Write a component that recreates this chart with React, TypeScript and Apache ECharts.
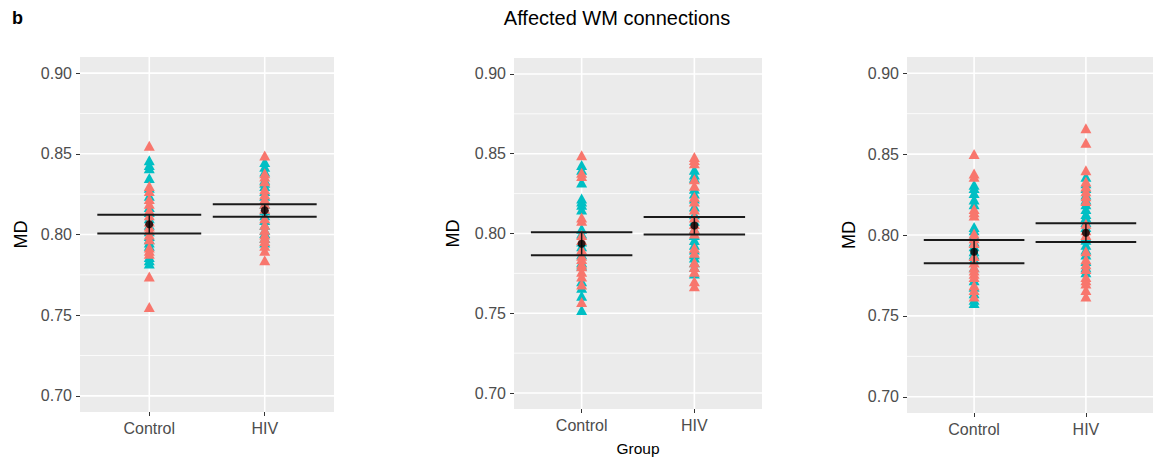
import React, { useEffect, useRef } from "react";
import * as echarts from "echarts";

const categories = ["Control", "HIV"];
const yTicks = [0.7, 0.75, 0.8, 0.85, 0.9];
const yMinor = [0.725, 0.775, 0.825, 0.875];
const panelNames = ["b", "Affected WM connections"];

// Panel 1
const p1ControlSalmon = [0.855, 0.830, 0.827, 0.822, 0.819, 0.815, 0.812, 0.808, 0.805, 0.803, 0.800, 0.797, 0.792, 0.790, 0.788, 0.774, 0.755];
const p1ControlTeal = [0.846, 0.843, 0.841, 0.835, 0.829, 0.824, 0.817, 0.814, 0.810, 0.806, 0.802, 0.799, 0.797, 0.795, 0.793, 0.786, 0.784, 0.782];
const p1HivSalmon = [0.849, 0.838, 0.836, 0.833, 0.828, 0.825, 0.822, 0.819, 0.816, 0.810, 0.806, 0.803, 0.800, 0.798, 0.796, 0.793, 0.790, 0.784];
const p1HivTeal = [0.845, 0.842, 0.839, 0.834, 0.832, 0.830, 0.827, 0.824, 0.819, 0.815, 0.812, 0.809, 0.806, 0.803, 0.801, 0.798, 0.795];
const p1Lower = [0.8006, 0.8110];
const p1Upper = [0.8122, 0.8188];
const p1Mean = [0.8064, 0.8150];

// Panel 2
const p2ControlSalmon = [0.849, 0.838, 0.836, 0.810, 0.808, 0.799, 0.796, 0.790, 0.786, 0.784, 0.781, 0.7795, 0.776, 0.773, 0.768, 0.757];
const p2ControlTeal = [0.843, 0.840, 0.832, 0.822, 0.820, 0.818, 0.815, 0.803, 0.800, 0.795, 0.792, 0.787, 0.782, 0.780, 0.770, 0.766, 0.761, 0.752];
const p2HivSalmon = [0.848, 0.846, 0.844, 0.834, 0.830, 0.823, 0.820, 0.815, 0.810, 0.806, 0.803, 0.800, 0.791, 0.788, 0.782, 0.779, 0.776, 0.770, 0.767];
const p2HivTeal = [0.840, 0.837, 0.835, 0.828, 0.825, 0.822, 0.817, 0.812, 0.808, 0.803, 0.799, 0.796, 0.793, 0.790, 0.787, 0.785, 0.782, 0.779, 0.775];
const p2Lower = [0.7863, 0.7994];
const p2Upper = [0.8008, 0.8104];
const p2Mean = [0.7936, 0.8050];

// Panel 3
const p3ControlSalmon = [0.850, 0.838, 0.836, 0.816, 0.814, 0.812, 0.801, 0.798, 0.795, 0.787, 0.783, 0.780, 0.778, 0.776, 0.774, 0.769, 0.766, 0.762];
const p3ControlTeal = [0.831, 0.829, 0.826, 0.822, 0.819, 0.805, 0.803, 0.800, 0.796, 0.793, 0.790, 0.788, 0.785, 0.780, 0.772, 0.768, 0.764, 0.760, 0.758];
const p3HivSalmon = [0.866, 0.857, 0.840, 0.833, 0.830, 0.827, 0.824, 0.821, 0.807, 0.803, 0.800, 0.790, 0.785, 0.782, 0.779, 0.774, 0.772, 0.770, 0.766, 0.762];
const p3HivTeal = [0.836, 0.832, 0.829, 0.825, 0.822, 0.819, 0.816, 0.813, 0.811, 0.808, 0.805, 0.799, 0.797, 0.794, 0.791, 0.788, 0.784, 0.780, 0.777];
const p3Lower = [0.7825, 0.7957];
const p3Upper = [0.7969, 0.8072];
const p3Mean = [0.7897, 0.8014];

const panels = [
  { cs: p1ControlSalmon, ct: p1ControlTeal, hs: p1HivSalmon, ht: p1HivTeal, lo: p1Lower, hi: p1Upper, mean: p1Mean },
  { cs: p2ControlSalmon, ct: p2ControlTeal, hs: p2HivSalmon, ht: p2HivTeal, lo: p2Lower, hi: p2Upper, mean: p2Mean },
  { cs: p3ControlSalmon, ct: p3ControlTeal, hs: p3HivSalmon, ht: p3HivTeal, lo: p3Lower, hi: p3Upper, mean: p3Mean },
];

const layout = [
  { left: 80, top: 57, width: 254, height: 355, nameGap: 50 },
  { left: 514, top: 58, width: 248, height: 354, nameGap: 52 },
  { left: 907, top: 57, width: 246, height: 356, nameGap: 49 },
];

const X_MIN = 0.4;
const X_MAX = 2.6;
const Y_MIN = 0.69;
const Y_MAX = 0.91;
const SALMON = "#F8766D";
const TEAL = "#00BFC4";
const FONT = "'Liberation Sans', Arial, Helvetica, sans-serif";

export default function App() {
  const ref = useRef<HTMLDivElement>(null);
  useEffect(() => {
    if (!ref.current) return;
    const chart = echarts.init(ref.current, undefined, { renderer: "svg" });
    const grid: any[] = [];
    const xAxis: any[] = [];
    const yAxis: any[] = [];
    const series: any[] = [];

    panels.forEach((p, i) => {
      const l = layout[i];
      grid.push({
        left: l.left, top: l.top, width: l.width, height: l.height,
        show: true, backgroundColor: "#EBEBEB", borderWidth: 0, containLabel: false,
      });
      xAxis.push({
        gridIndex: i, type: "value", min: X_MIN, max: X_MAX,
        axisLine: { show: false },
        axisTick: { show: true, customValues: [1, 2], length: 4, lineStyle: { color: "#333333", width: 1 } },
        axisLabel: {
          customValues: [1, 2],
          formatter: (v: number) => categories[Math.round(v) - 1] ?? "",
          color: "#4D4D4D", fontSize: 16, margin: 8, fontFamily: FONT,
        },
        splitLine: { show: false },
        name: i === 1 ? "Group" : "",
        nameLocation: "middle", nameGap: 31,
        nameTextStyle: { color: "#000000", fontSize: 15.5, fontFamily: FONT },
      });
      yAxis.push({
        gridIndex: i, type: "value", min: Y_MIN, max: Y_MAX,
        axisLine: { show: false },
        axisTick: { show: true, customValues: yTicks, length: 4, lineStyle: { color: "#333333", width: 1 } },
        axisLabel: {
          customValues: yTicks,
          formatter: (v: number) => v.toFixed(2),
          color: "#4D4D4D", fontSize: 16, margin: 8, fontFamily: FONT,
        },
        splitLine: { show: false },
        name: "MD", nameLocation: "middle", nameGap: l.nameGap, nameRotate: 90,
        nameTextStyle: { color: "#000000", fontSize: 18, fontFamily: FONT },
      });

      // minor grid lines
      yMinor.forEach((v) => {
        series.push({
          type: "line", xAxisIndex: i, yAxisIndex: i, silent: true, symbol: "none", z: 1,
          data: [[X_MIN, v], [X_MAX, v]],
          lineStyle: { color: "#FFFFFF", width: 0.8 },
        });
      });
      // major grid lines
      yTicks.forEach((v) => {
        series.push({
          type: "line", xAxisIndex: i, yAxisIndex: i, silent: true, symbol: "none", z: 1,
          data: [[X_MIN, v], [X_MAX, v]],
          lineStyle: { color: "#FFFFFF", width: 1.6 },
        });
      });
      categories.forEach((_, k) => {
        series.push({
          type: "line", xAxisIndex: i, yAxisIndex: i, silent: true, symbol: "none", z: 1,
          data: [[k + 1, Y_MIN], [k + 1, Y_MAX]],
          lineStyle: { color: "#FFFFFF", width: 1.6 },
        });
      });

      const pts = (ctrl: number[], hiv: number[]) => [
        ...ctrl.map((v) => [1, v]),
        ...hiv.map((v) => [2, v]),
      ];
      series.push({
        type: "scatter", xAxisIndex: i, yAxisIndex: i, symbol: "triangle", symbolSize: [11, 10], z: 3,
        itemStyle: { color: TEAL, opacity: 1 },
        data: pts(p.ct, p.ht),
      });
      series.push({
        type: "scatter", xAxisIndex: i, yAxisIndex: i, symbol: "triangle", symbolSize: [11, 10], z: 3,
        itemStyle: { color: SALMON, opacity: 1 },
        data: pts(p.cs, p.hs),
      });
      series.push({
        type: "custom", xAxisIndex: i, yAxisIndex: i, z: 4,
        encode: { x: 0, y: [1, 2] },
        data: categories.map((_, k) => [k + 1, p.lo[k], p.hi[k]]),
        renderItem: (params: any, api: any) => {
          const x = api.value(0);
          const lo = api.value(1);
          const hi = api.value(2);
          const a = api.coord([x - 0.45, lo]);
          const b = api.coord([x + 0.45, lo]);
          const c = api.coord([x - 0.45, hi]);
          const d = api.coord([x + 0.45, hi]);
          const m1 = api.coord([x, lo]);
          const m2 = api.coord([x, hi]);
          const style = { stroke: "#1A1A1A", lineWidth: 2 };
          return {
            type: "group",
            children: [
              { type: "line", shape: { x1: a[0], y1: a[1], x2: b[0], y2: b[1] }, style },
              { type: "line", shape: { x1: c[0], y1: c[1], x2: d[0], y2: d[1] }, style },
              { type: "line", shape: { x1: m1[0], y1: m1[1], x2: m2[0], y2: m2[1] }, style: { stroke: "#1A1A1A", lineWidth: 1.5 } },
            ],
          };
        },
      });
      series.push({
        type: "scatter", xAxisIndex: i, yAxisIndex: i, symbol: "circle", symbolSize: 8, z: 5,
        itemStyle: { color: "#000000" },
        data: categories.map((_, k) => [k + 1, p.mean[k]]),
      });
    });

    chart.setOption({
      animation: false,
      backgroundColor: "#FFFFFF",
      textStyle: { fontFamily: FONT },
      grid, xAxis, yAxis, series,
      graphic: [
        {
          type: "text", x: 12, y: 18,
          style: { text: panelNames[0], font: `bold 18px ${FONT}`, fill: "#000000", align: "left", verticalAlign: "middle" },
        },
        {
          type: "text", x: 617, y: 18,
          style: { text: panelNames[1], font: `20px ${FONT}`, fill: "#000000", align: "center", verticalAlign: "middle" },
        },
      ],
    });
    return () => chart.dispose();
  }, []);
  return <div ref={ref} style={{ position: "absolute", left: 0, top: 0, width: 1153, height: 461 }} />;
}
